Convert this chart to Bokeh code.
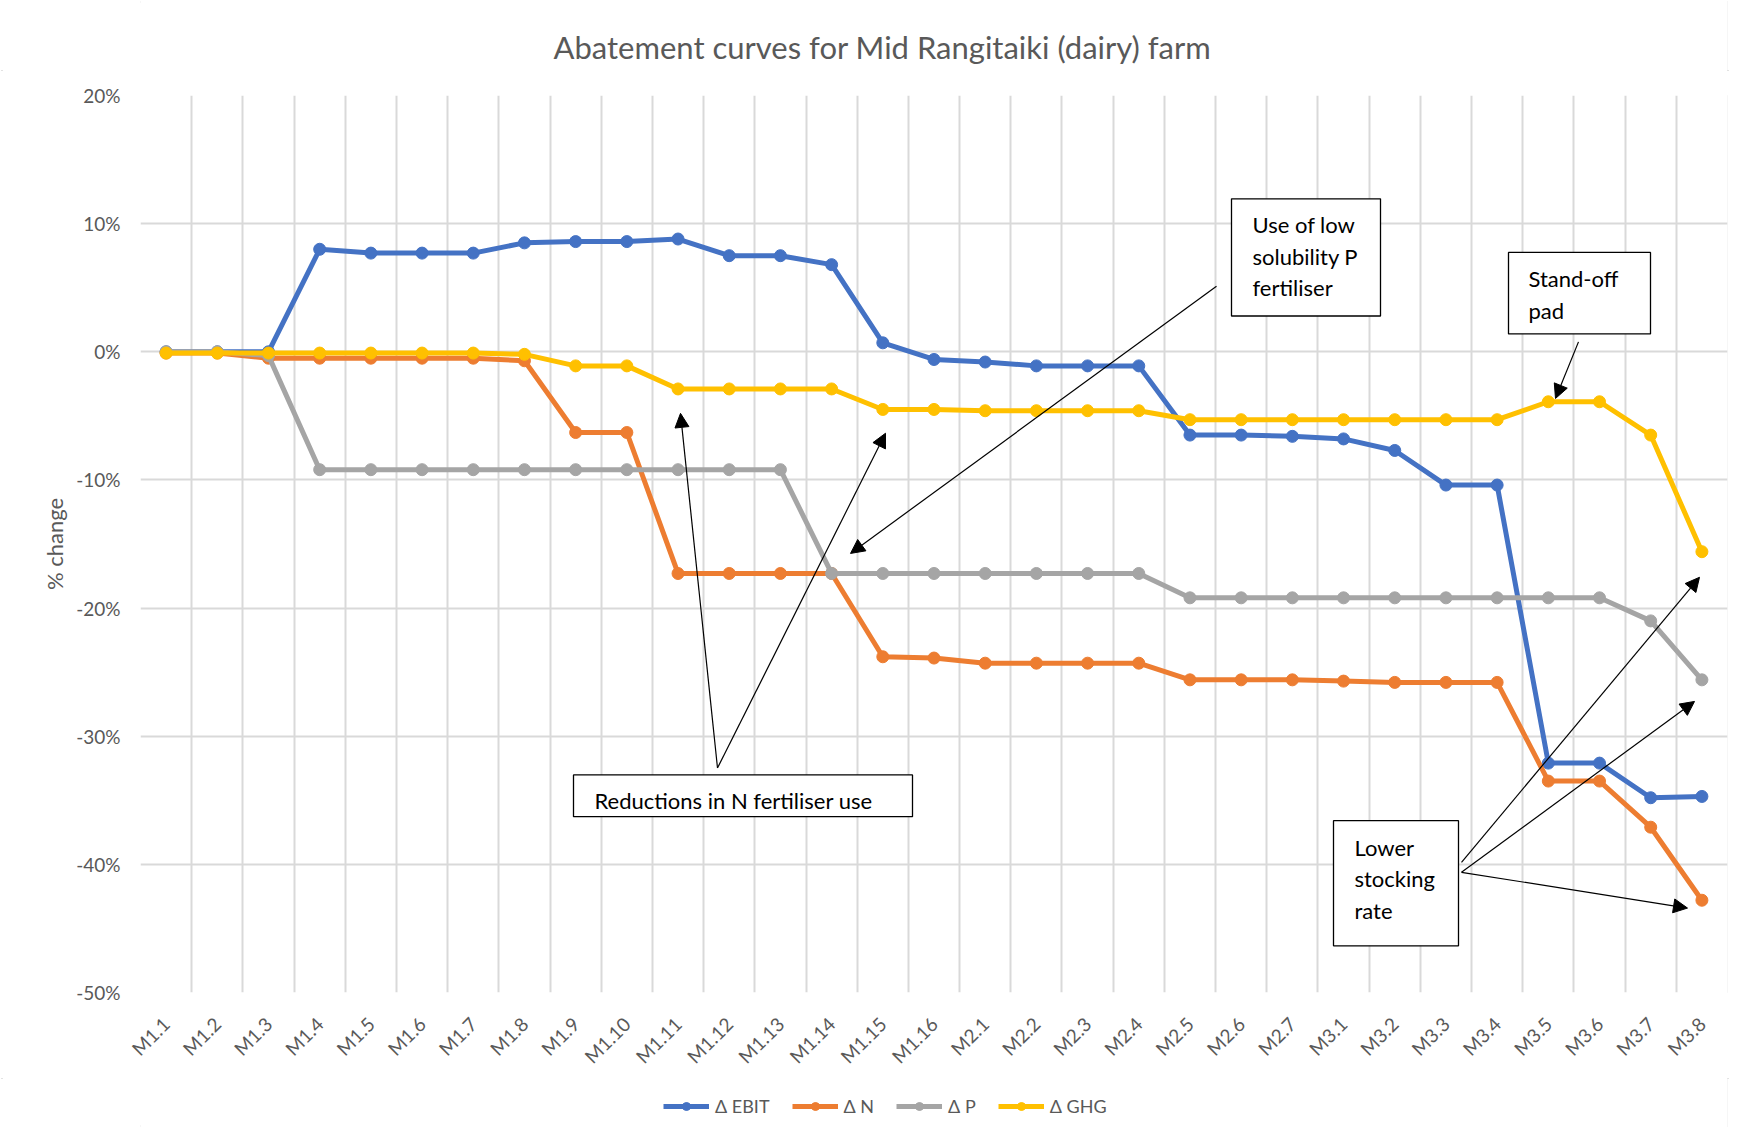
import math
from bokeh.plotting import figure
from bokeh.layouts import column
from bokeh.models import (Range1d, FixedTicker, PrintfTickFormatter, Arrow, NormalHead,
                          Legend, LegendItem, ColumnDataSource, Label)
from bokeh.core.properties import value
from bokeh.embed import file_html
from bokeh.resources import INLINE

# ---------------- data ----------------
categories = ["M1.1", "M1.2", "M1.3", "M1.4", "M1.5", "M1.6", "M1.7", "M1.8", "M1.9", "M1.10",
              "M1.11", "M1.12", "M1.13", "M1.14", "M1.15", "M1.16",
              "M2.1", "M2.2", "M2.3", "M2.4", "M2.5", "M2.6", "M2.7",
              "M3.1", "M3.2", "M3.3", "M3.4", "M3.5", "M3.6", "M3.7", "M3.8"]

d_ebit = [0.0, 0.0, 0.0, 8.0, 7.7, 7.7, 7.7, 8.5, 8.6, 8.6, 8.8, 7.5, 7.5, 6.8, 0.7, -0.6,
          -0.8, -1.1, -1.1, -1.1, -6.5, -6.5, -6.6, -6.8, -7.7, -10.4, -10.4,
          -32.1, -32.1, -34.8, -34.7]
d_n = [-0.1, -0.1, -0.5, -0.5, -0.5, -0.5, -0.5, -0.7, -6.3, -6.3, -17.3, -17.3, -17.3, -17.3,
       -23.8, -23.9, -24.3, -24.3, -24.3, -24.3, -25.6, -25.6, -25.6, -25.7, -25.8, -25.8, -25.8,
       -33.5, -33.5, -37.1, -42.8]
d_p = [0.0, 0.0, -0.3, -9.2, -9.2, -9.2, -9.2, -9.2, -9.2, -9.2, -9.2, -9.2, -9.2,
       -17.3, -17.3, -17.3, -17.3, -17.3, -17.3, -17.3,
       -19.2, -19.2, -19.2, -19.2, -19.2, -19.2, -19.2, -19.2, -19.2, -21.0, -25.6]
d_ghg = [-0.1, -0.1, -0.1, -0.1, -0.1, -0.1, -0.1, -0.2, -1.1, -1.1, -2.9, -2.9, -2.9, -2.9,
         -4.5, -4.5, -4.6, -4.6, -4.6, -4.6, -5.3, -5.3, -5.3, -5.3, -5.3, -5.3, -5.3,
         -3.9, -3.9, -6.5, -15.6]

title_text = "Abatement curves for Mid Rangitaiki (dairy) farm"
series_cols = ["ebit", "n", "p", "ghg"]
series_names = ["\u0394 EBIT", "\u0394 N", "\u0394 P", "\u0394 GHG"]
series_colors = ["#4472C4", "#ED7D31", "#A5A5A5", "#FFC000"]
y_ticks = [-50, -40, -30, -20, -10, 0, 10, 20]

FONT = "Lato"
TXT = "#595959"
W = 1730
H_TITLE = 70
H_MAIN = 1008
H_LEG = 50
LW = 5
MS = 12
FL, FR = 140, 1727   # frame left / right in page pixels


def strip(height):
    f = figure(width=W, height=height, output_backend="svg", toolbar_location=None,
               x_range=Range1d(0, 1), y_range=Range1d(0, 1),
               min_border_left=FL, min_border_right=W - FR, min_border_top=0, min_border_bottom=0,
               x_axis_location=None, y_axis_location=None)
    f.outline_line_color = None
    f.xgrid.visible = False
    f.ygrid.visible = False
    return f


# ---------------- title strip ----------------
pt = strip(H_TITLE)
pt.add_layout(Label(x=(882 - FL) / (FR - FL), y=1 - 46.5 / H_TITLE, text=title_text,
                    text_align="center", text_baseline="middle", text_font=FONT,
                    text_font_size="31px", text_color=TXT))

# ---------------- main chart ----------------
src = ColumnDataSource(dict(x=list(range(len(categories))), ebit=d_ebit, n=d_n, p=d_p, ghg=d_ghg))

TOP = 95 - H_TITLE
p = figure(width=W, height=H_MAIN, output_backend="svg", toolbar_location=None,
           x_range=Range1d(-0.5, len(categories) - 0.5), y_range=Range1d(-50, 20),
           min_border_left=FL, min_border_right=W - FR, min_border_top=TOP,
           min_border_bottom=H_MAIN - (998 - H_TITLE))
p.outline_line_color = None
p.background_fill_color = "white"
p.border_fill_color = "white"

# axes
p.xaxis.ticker = FixedTicker(ticks=list(range(len(categories))))
p.xaxis.major_label_overrides = {i: c for i, c in enumerate(categories)}
p.xaxis.major_label_orientation = math.pi / 4
p.xaxis.major_label_standoff = 22
p.yaxis.ticker = FixedTicker(ticks=y_ticks)
p.yaxis.formatter = PrintfTickFormatter(format="%d%%")
p.yaxis.major_label_standoff = 14
p.yaxis.axis_label = "% change"
p.yaxis.axis_label_standoff = 5
p.yaxis.axis_label_text_font = FONT
p.yaxis.axis_label_text_font_size = "22px"
p.yaxis.axis_label_text_font_style = "normal"
p.yaxis.axis_label_text_color = TXT
for ax in (p.xaxis, p.yaxis):
    ax.axis_line_color = None
    ax.major_tick_line_color = None
    ax.minor_tick_line_color = None
    ax.major_label_text_font = FONT
    ax.major_label_text_font_size = "19px"
    ax.major_label_text_color = TXT

p.xgrid.ticker = FixedTicker(ticks=[i - 0.5 for i in range(len(categories) + 1)])
p.ygrid.ticker = FixedTicker(ticks=y_ticks)
for g in (p.xgrid, p.ygrid):
    g.grid_line_color = "#d9d9d9"
    g.grid_line_width = 2

# series
for col, color in zip(series_cols, series_colors):
    p.line("x", col, source=src, line_color=color, line_width=LW)
    p.scatter("x", col, source=src, size=MS, fill_color=color, line_color=color)

# page pixel -> data helpers for annotation placement
PX0, PXW, PY0, PYH = float(FL), (FR - FL) / 31.0, 95.0, 903.0 / 70


def fx(px):
    return (px - PX0) / PXW - 0.5


def fy(py):
    return 20 - (py - PY0) / PYH


# annotation boxes
boxes = [(1231, 1380, 199, 317), (1508, 1650, 253, 335), (573, 912, 779, 821), (1333, 1458, 825, 951)]
p.quad(left=[fx(b[0]) for b in boxes], right=[fx(b[1]) for b in boxes],
       top=[fy(b[2]) for b in boxes], bottom=[fy(b[3]) for b in boxes],
       fill_color="white", line_color="black", line_width=1.3)

texts = [("Use of low", 1252, 225), ("solubility P", 1252, 257), ("fertiliser", 1252, 288),
         ("Stand-off", 1528, 279), ("pad", 1528, 311),
         ("Reductions in N fertiliser use", 594, 805),
         ("Lower", 1354, 852), ("stocking", 1354, 883), ("rate", 1354, 915)]
p.text(x=[fx(t[1]) for t in texts], y=[fy(t[2]) for t in texts], text=[t[0] for t in texts],
       text_font=value(FONT), text_font_size="22px", text_baseline="middle", text_align="left",
       text_color="black")

arrows = [(1216, 287, 850, 556), (1578, 343, 1555, 400), (717, 772, 680, 415), (717, 772, 885, 435),
          (1461, 867, 1699, 580), (1461, 877, 1694, 705), (1461, 877, 1687, 913)]
for (x0, y0, x1, y1) in arrows:
    p.add_layout(Arrow(end=NormalHead(size=14, fill_color="black", line_color="black"),
                       x_start=fx(x0), y_start=fy(y0), x_end=fx(x1), y_end=fy(y1),
                       line_color="black", line_width=1.2))

# ---------------- legend strip (same series, drawn out of view) ----------------
pl = strip(H_LEG)
pl.x_range = Range1d(1000, 1001)
pl.y_range = Range1d(1000, 1001)
items = []
for col, name, color in zip(series_cols, series_names, series_colors):
    rl = pl.line("x", col, source=src, line_color=color, line_width=LW)
    rs = pl.scatter("x", col, source=src, size=MS, fill_color=color, line_color=color)
    items.append(LegendItem(label=name, renderers=[rl, rs]))

legend = Legend(items=items, orientation="horizontal", location=(663 - FL, H_LEG - 39),
                glyph_width=46, glyph_height=20, label_height=20, label_standoff=6,
                spacing=22, padding=0, margin=0, border_line_color=None,
                background_fill_alpha=0, label_text_font=FONT, label_text_font_size="18px",
                label_text_color=TXT)
pl.add_layout(legend, "center")

layout = column(pt, p, pl, spacing=0)
layout.styles = {"outline": "2px solid #d9d9d9", "outline-offset": "-3px"}
open("out.html", "w").write(file_html(layout, INLINE))
